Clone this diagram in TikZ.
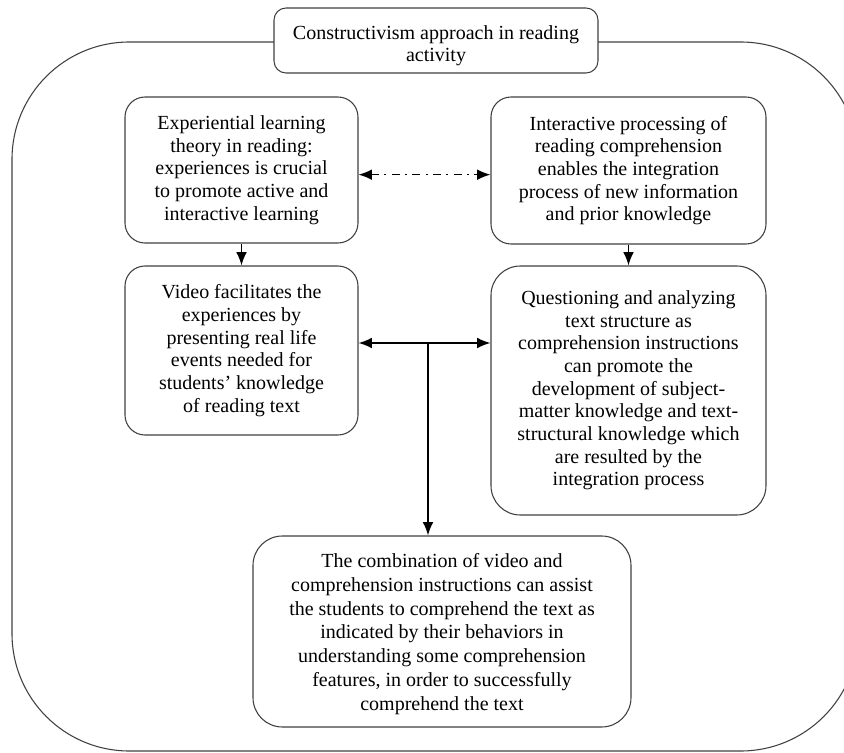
\documentclass[tikz,border=0pt]{standalone}
\usepackage{fontspec}
\setmainfont{Liberation Serif}
\usetikzlibrary{arrows.meta}

\begin{document}
\begin{tikzpicture}[x=0.75pt, y=-0.75pt, line width=0.8pt, draw=black!75,
  box/.style={draw, fill=white, rounded corners=15pt, align=center, inner sep=0pt,
    font=\fontsize{15}{17}\selectfont},
  link/.style={draw=black, line width=1.1pt, -{Latex[length=10pt,width=8pt]}},
  both/.style={draw=black, line width=1.1pt, {Latex[length=10pt,width=8pt]}-{Latex[length=10pt,width=8pt]}}]
  \clip (0,0) rectangle (844,753);

  % outer frame, runs off the right edge
  \draw[rounded corners=88pt] (12,42) rectangle (858,751);

  \node[box, rounded corners=9pt, minimum width=243pt, minimum height=48.75pt] (title) at (436,40.5)
    {\raisebox{-4pt}[\height][\depth]{\begin{tabular}{@{}c@{}}Constructivism approach in reading\\activity\end{tabular}}};

  \node[box, minimum width=174.75pt, minimum height=109.5pt] (exp) at (241.5,170)
    {Experiential learning\\theory in reading:\\experiences is crucial\\to promote active and\\interactive learning};
  \node[box, minimum width=206.25pt, minimum height=110.25pt] (inter) at (628.5,170.5)
    {Interactive processing of\\reading comprehension\\enables the integration\\process of new information\\and prior knowledge};

  \node[box, minimum width=174.75pt, minimum height=126.75pt] (video) at (241.5,350.5)
    {Video facilitates the\\experiences by\\presenting real life\\events needed for\\students' knowledge\\of reading text};
  \node[box, rounded corners=22pt, minimum width=206.25pt, minimum height=186.75pt] (quest) at (628.5,390.5)
    {Questioning and analyzing\\text structure as\\comprehension instructions\\can promote the\\development of subject-\\matter knowledge and text-\\structural knowledge which\\are resulted by the\\integration process};

  \node[box, rounded corners=22pt, minimum width=283.5pt, minimum height=143.25pt,
    font=\fontsize{15}{17.8}\selectfont] (comb) at (442,631.5)
    {\raisebox{-2pt}[\height][\depth]{\begin{tabular}{@{}c@{}}The combination of video and\\comprehension instructions can assist\\the students to comprehend the text as\\indicated by their behaviors in\\understanding some comprehension\\features, in order to successfully\\comprehend the text\end{tabular}}};

  % dash-dot link between the two theories
  \draw[both, dash pattern=on 6pt off 4pt on 1.5pt off 4pt] ([yshift=-3.5pt]exp.east) -- ([yshift=-3.5pt]exp.east -| inter.west);

  \draw[link] (exp.south) -- (video.north);
  \draw[link] (inter.south) -- (quest.north);

  \coordinate (mid) at (428,343);
  \draw[both] (video.east |- mid) -- (quest.west |- mid);
  \draw[link] (mid) -- (comb.north -| mid);
\end{tikzpicture}
\end{document}
